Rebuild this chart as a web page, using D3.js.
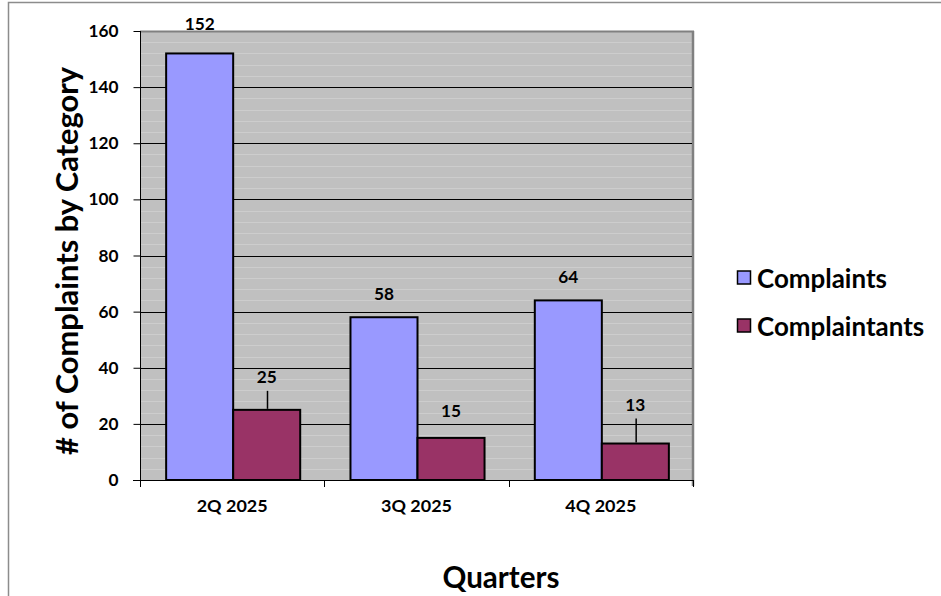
<!DOCTYPE html>
<html>
<head>
<meta charset="utf-8">
<script src="https://cdn.jsdelivr.net/npm/d3@7"></script>
<style>
  html, body { margin: 0; padding: 0; background: #fff; }
  svg { display: block; font-family: Lato, "Open Sans", sans-serif; font-weight: bold; }
</style>
</head>
<body>
<svg id="chart" width="941" height="596"></svg>
<script>
// Quarterly complaint counts
const quarters = ["2Q 2025", "3Q 2025", "4Q 2025"];
const seriesNames = ["Complaints", "Complaintants"];
const complaints = [152, 58, 64];
const complaintants = [25, 15, 13];
const yTicks = [0, 20, 40, 60, 80, 100, 120, 140, 160];
const colors = ["#9999FF", "#993366"];

const svg = d3.select("#chart");
const W = 941, H = 596;
const plot = { left: 140, top: 31, right: 693, bottom: 480 };
const FONT = "Lato, 'Open Sans', sans-serif";

// scale a text's font size so that it spans the given width
function fitWidth(sel, width) {
  sel.each(function () {
    const fs = parseFloat(this.getAttribute("font-size"));
    const len = this.getComputedTextLength();
    if (len > 0) this.setAttribute("font-size", (fs * width / len).toFixed(2));
  });
}

// outer frame
svg.append("path")
  .attr("d", `M8.5,${H} L8.5,2.5 L${W},2.5`)
  .attr("fill", "none").attr("stroke", "#8c8c8c").attr("stroke-width", 1.5);

const x = d3.scaleBand().domain(quarters).range([plot.left, plot.right]);
const y = d3.scaleLinear().domain([0, 160]).range([plot.bottom, plot.top]);

// plot background
svg.append("rect")
  .attr("x", plot.left).attr("y", plot.top)
  .attr("width", plot.right - plot.left).attr("height", plot.bottom - plot.top)
  .attr("fill", "#c0c0c0");

// minor grid lines
const minor = d3.range(4, 160, 4).filter(v => v % 20 !== 0);
svg.append("g").selectAll("line").data(minor).join("line")
  .attr("x1", plot.left).attr("x2", plot.right)
  .attr("y1", d => Math.round(y(d)) + 0.5).attr("y2", d => Math.round(y(d)) + 0.5)
  .attr("stroke", "#cdcdcd").attr("stroke-width", 1);

// plot border (top and right shadow)
svg.append("line").attr("x1", plot.left).attr("x2", plot.right + 1)
  .attr("y1", plot.top + 0.5).attr("y2", plot.top + 0.5)
  .attr("stroke", "#808080").attr("stroke-width", 2);
svg.append("line").attr("x1", plot.right).attr("x2", plot.right)
  .attr("y1", plot.top).attr("y2", plot.bottom + 6)
  .attr("stroke", "#808080").attr("stroke-width", 2.5);

// major grid lines
svg.append("g").selectAll("line").data(yTicks.filter(v => v > 0 && v < 160)).join("line")
  .attr("x1", plot.left).attr("x2", plot.right - 1)
  .attr("y1", d => Math.round(y(d)) + 0.5).attr("y2", d => Math.round(y(d)) + 0.5)
  .attr("stroke", "#000").attr("stroke-width", 1);

// y axis
const yAxis = d3.axisLeft(y).tickValues(yTicks).tickSize(7).tickPadding(15);
const gy = svg.append("g").attr("transform", `translate(${plot.left + 0.5},0)`).call(yAxis);
gy.select(".domain").attr("stroke", "#000").attr("d", `M0,${plot.bottom}V${plot.top}`);
gy.selectAll(".tick line").attr("stroke", "#000");
gy.selectAll(".tick text").attr("font-size", 16).attr("font-weight", "bold")
  .attr("font-family", FONT).attr("fill", "#000");
fitWidth(gy.selectAll(".tick text").filter(d => d === 160), 30);
const tickFs = gy.selectAll(".tick text").filter(d => d === 160).attr("font-size");
gy.selectAll(".tick text").attr("font-size", tickFs);

// x axis
const xAxis = d3.axisBottom(x).tickSize(0).tickPadding(19);
const gx = svg.append("g").attr("transform", `translate(0,${plot.bottom + 0.5})`).call(xAxis);
gx.select(".domain").attr("stroke", "#000").attr("d", `M${plot.left - 7},0H${plot.right}`);
gx.selectAll(".tick text").attr("font-size", 16).attr("font-weight", "bold")
  .attr("font-family", FONT).attr("fill", "#000");
fitWidth(gx.selectAll(".tick text").filter((d, i) => i === 0), 71);
gx.selectAll(".tick text").attr("font-size", gx.select(".tick text").attr("font-size"));
// category separators
svg.append("g").selectAll("line").data([...quarters.map(q => x(q)), plot.right]).join("line")
  .attr("x1", d => Math.round(d) + 0.5).attr("x2", d => Math.round(d) + 0.5)
  .attr("y1", plot.bottom).attr("y2", plot.bottom + 7)
  .attr("stroke", "#000");

// bars
const inner = d3.scaleBand().domain(seriesNames).range([0, x.bandwidth()])
  .paddingOuter(0.375).paddingInner(0).align(0.52);
const data = quarters.map((q, i) => ({ q, vals: [complaints[i], complaintants[i]] }));

const groups = svg.append("g").selectAll("g").data(data).join("g")
  .attr("transform", d => `translate(${x(d.q)},0)`);

groups.selectAll("rect").data(d => d.vals.map((v, j) => ({ v, s: seriesNames[j], j }))).join("rect")
  .attr("x", d => inner(d.s))
  .attr("y", d => y(d.v))
  .attr("width", inner.bandwidth())
  .attr("height", d => y(0) - y(d.v))
  .attr("fill", d => colors[d.j])
  .attr("stroke", "#000").attr("stroke-width", 2);

// value labels (some are raised with a leader line)
const labelOffset = { "Complaints": [30, 24, 24], "Complaintants": [33, 27, 39] };
const leader = { "Complaintants": [true, false, true] };
groups.each(function (d, i) {
  const g = d3.select(this);
  d.vals.forEach((v, j) => {
    const s = seriesNames[j];
    const cx = inner(s) + inner.bandwidth() / 2;
    const off = labelOffset[s][i];
    g.append("text")
      .attr("x", cx).attr("y", y(v) - off)
      .attr("text-anchor", "middle").attr("dominant-baseline", "central")
      .attr("font-size", tickFs).attr("fill", "#000")
      .text(v);
    if (leader[s] && leader[s][i]) {
      g.append("line")
        .attr("x1", Math.round(cx) + 0.5).attr("x2", Math.round(cx) + 0.5)
        .attr("y1", y(v) - off + 14).attr("y2", y(v) - 1)
        .attr("stroke", "#000").attr("stroke-width", 1.5);
    }
  });
});

// axis titles
const yTitle = svg.append("text")
  .attr("transform", `translate(66,261) rotate(-90)`)
  .attr("text-anchor", "middle").attr("dominant-baseline", "central")
  .attr("font-size", 24).attr("fill", "#000")
  .text("# of Complaints by Category");
fitWidth(yTitle, 388);

const xTitle = svg.append("text")
  .attr("x", 501).attr("y", 576)
  .attr("text-anchor", "middle").attr("dominant-baseline", "central")
  .attr("font-size", 25).attr("fill", "#000")
  .text("Quarters");
fitWidth(xTitle, 117);

// legend
const legend = svg.append("g").attr("transform", "translate(737,270)");
seriesNames.forEach((s, i) => {
  const row = legend.append("g").attr("transform", `translate(0,${i * 48})`);
  row.append("rect").attr("x", 0.5).attr("y", 1).attr("width", 13).attr("height", 13)
    .attr("fill", colors[i]).attr("stroke", "#000").attr("stroke-width", 1.5);
  const t = row.append("text").attr("x", 20).attr("y", 8)
    .attr("dominant-baseline", "central")
    .attr("font-size", 20).attr("fill", "#000").text(s);
  if (i === 0) fitWidth(t, 130);
});
legend.selectAll("text").attr("font-size", legend.select("text").attr("font-size"));
</script>
</body>
</html>
